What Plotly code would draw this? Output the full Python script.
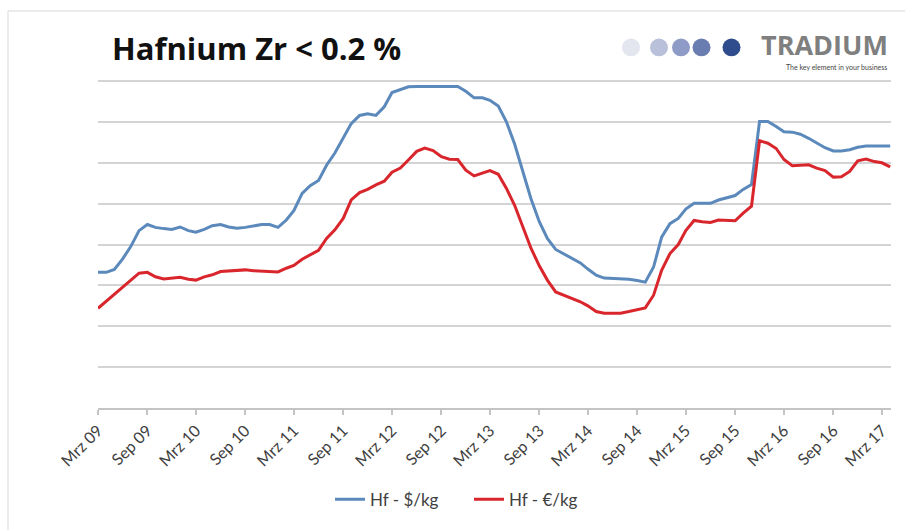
import pandas as pd
import plotly.graph_objects as go

# Monthly hafnium prices (Zr < 0.2 %), March 2009 - April 2017
months = pd.date_range("2009-03-01", periods=98, freq="MS")

hf_usd = [
    332, 332, 339, 365, 395, 434, 449, 442, 439, 437,
    443, 434, 430, 437, 446, 449, 443, 440, 442, 445,
    449, 449, 442, 460, 483, 525, 544, 557, 594, 624,
    659, 696, 716, 720, 716, 737, 772, 780, 786, 787,
    787, 787, 787, 787, 787, 775, 759, 759, 753, 739,
    701, 646, 581, 512, 456, 415, 388, 377, 366, 355,
    340, 325, 318, 317, 316, 315, 312, 308, 345, 418,
    451, 464, 487, 501, 501, 501, 509, 515, 520, 535,
    547, 701, 701, 689, 676, 675, 670, 660, 648, 637,
    629, 629, 632, 638, 641, 641, 641, 641,
]

hf_eur = [
    244, 261, 278, 295, 313, 330, 332, 321, 316, 318,
    320, 315, 313, 321, 326, 334, 335, 336, 338, 336,
    335, 335, 333, 342, 349, 364, 375, 386, 415, 436,
    464, 509, 527, 535, 546, 555, 577, 587, 607, 628,
    636, 630, 615, 609, 608, 582, 568, 575, 581, 572,
    538, 496, 443, 391, 348, 313, 284, 276, 267, 260,
    250, 236, 232, 232, 232, 236, 240, 245, 276, 337,
    378, 400, 434, 459, 456, 454, 460, 459, 458, 477,
    494, 654, 648, 635, 608, 593, 594, 595, 587, 581,
    565, 566, 579, 605, 609, 603, 600, 590,
]

tick_dates = pd.date_range("2009-03-01", "2017-03-01", freq="6MS")
tick_labels = [
    "Mrz 09", "Sep 09", "Mrz 10", "Sep 10", "Mrz 11", "Sep 11",
    "Mrz 12", "Sep 12", "Mrz 13", "Sep 13", "Mrz 14", "Sep 14",
    "Mrz 15", "Sep 15", "Mrz 16", "Sep 16", "Mrz 17",
]

series_names = ["Hf - $/kg", "Hf - €/kg"]
series_colors = ["#5b89bb", "#d9262c"]

W, H = 905, 530
L, R, T, B = 98, 14, 77, 117
PW, PH = W - L - R, H - T - B


def px(x):
    return (x - L) / PW


def py(y):
    return (H - B - y) / PH


FONT = "Lato, 'Open Sans', sans-serif"
WIDE = "'Open Sans', Lato, sans-serif"

fig = go.Figure()
for name, vals, col in zip(series_names, [hf_usd, hf_eur], series_colors):
    fig.add_trace(go.Scatter(
        x=months, y=vals, name=name, mode="lines",
        line=dict(color=col, width=3),
    ))

shapes = [
    # outer chart frame
    dict(type="rect", xref="paper", yref="paper",
         x0=px(8), x1=px(W + 10), y0=py(H + 10), y1=py(10),
         line=dict(color="#d9d9d9", width=1), fillcolor="rgba(0,0,0,0)",
         layer="below"),
]

# logo dots
dot_x = [631, 659, 681, 701.5, 731.5]
dot_col = ["#e3e5ef", "#b9c1da", "#8e9bc6", "#6a7db1", "#2f4d8c"]
r = 9
cy = 47
for x, c in zip(dot_x, dot_col):
    shapes.append(dict(type="circle", xref="paper", yref="paper",
                       x0=px(x - r), x1=px(x + r), y0=py(cy + r), y1=py(cy - r),
                       fillcolor=c, line=dict(width=0)))

annotations = [
    dict(text="<b>Hafnium Zr &lt; 0.2 %</b>", xref="paper", yref="paper",
         x=px(110), y=py(48), xanchor="left", yanchor="middle",
         showarrow=False, font=dict(family=WIDE, size=31, color="#111111")),
    dict(text="<b>TRADIUM</b>", xref="paper", yref="paper",
         x=px(890), y=py(44), xanchor="right", yanchor="middle",
         showarrow=False, font=dict(family=WIDE, size=27, color="#7f7f7f")),
    dict(text="The key element in your business", xref="paper", yref="paper",
         x=px(889), y=py(67), xanchor="right", yanchor="middle",
         showarrow=False, font=dict(family=FONT, size=7, color="#444444")),
]

fig.update_layout(
    width=W, height=H,
    margin=dict(l=L, r=R, t=T, b=B, pad=0),
    paper_bgcolor="white", plot_bgcolor="white",
    shapes=shapes, annotations=annotations,
    showlegend=True,
    legend=dict(orientation="h", xanchor="left", yanchor="middle",
                x=px(330), y=py(506), font=dict(family=FONT, size=17, color="#404040"),
                bgcolor="rgba(0,0,0,0)", itemwidth=30, tracegroupgap=0,
                entrywidth=94, entrywidthmode="pixels"),
    xaxis=dict(
        type="date",
        range=[pd.Timestamp("2009-03-01"), pd.Timestamp("2017-04-04")],
        tickvals=list(tick_dates), ticktext=tick_labels, tickangle=-45,
        tickfont=dict(family=FONT, size=16, color="#404040"),
        showgrid=False, zeroline=False,
        showline=True, linecolor="#c4c4c4", linewidth=2,
        ticks="outside", ticklen=5, tickcolor="#c4c4c4", tickwidth=1.5,
    ),
    yaxis=dict(
        range=[0, 810], tickvals=[100, 200, 300, 400, 500, 600, 700, 800],
        showticklabels=False,
        showgrid=True, gridcolor="#d4d4d4", gridwidth=2,
        zeroline=False, showline=False, ticks="",
    ),
)

fig.write_html("out.html")
